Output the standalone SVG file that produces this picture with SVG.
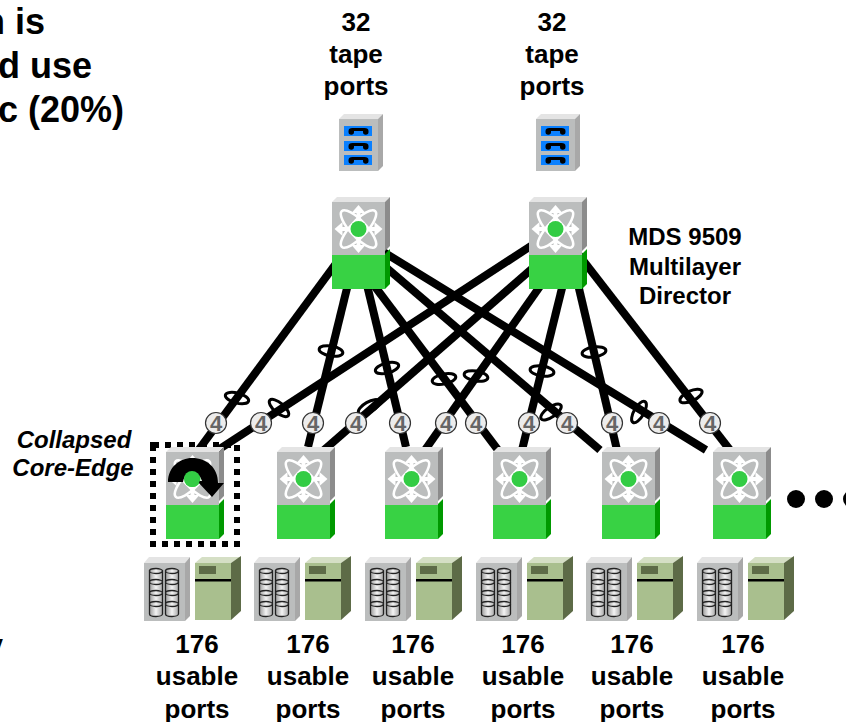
<svg xmlns="http://www.w3.org/2000/svg" xmlns:xlink="http://www.w3.org/1999/xlink" width="846" height="722" viewBox="0 0 846 722">
<style>
text{font-family:"Liberation Sans",Arial,sans-serif;font-weight:bold;fill:#000}
.t26{font-size:26px;text-anchor:middle}
.t24{font-size:24px;text-anchor:middle}
.t36{font-size:36px;text-anchor:end}
.it{font-size:24px;font-style:italic;text-anchor:middle}
.b{font-size:22px;text-anchor:middle;fill:#666}
.link{stroke:#000;stroke-width:8;fill:none}
.ring{stroke:#000;stroke-width:3;fill:none}
.badge{fill:#ececec;stroke:#333;stroke-width:1.2}
</style>
<defs>
<linearGradient id="cyl" x1="0" x2="1" y1="0" y2="0"><stop offset="0" stop-color="#9a9a9a"/><stop offset=".5" stop-color="#f4f4f4"/><stop offset="1" stop-color="#a8a8a8"/></linearGradient>
<g id="sw">
<polygon points="0,5 5,0 58,0 53,5" fill="#e4e4e4"/>
<polygon points="53,5 58,0 58,49 53,54" fill="#8c8c8c"/>
<polygon points="53,57 58,52 58,87 53,92" fill="#009900"/>
<rect x="0" y="5" width="53" height="53" fill="#bbbdbd"/>
<rect x="0" y="58" width="53" height="34" fill="#38d244"/>
</g>
<g id="hub">
<g fill="none" stroke="#fff" stroke-width="2.6">
<ellipse rx="24.500" ry="8" transform="rotate(47)"/>
<ellipse rx="24.500" ry="8" transform="rotate(-47)"/>
</g>
<g stroke="#fff" stroke-width="4"><path d="M-20,0H20M0,-20V20"/></g>
<g fill="#fff"><path d="M-24,0l8,-7v14zM24,0l-8,-7v14zM0,-24l-7,8h14zM0,24l-7,-8h14z"/></g>
<circle r="8" fill="#33cc44"/>
</g>
<g id="tape">
<polygon points="0,5 5,0 44,0 39,5" fill="#e4e4e4"/>
<polygon points="39,5 44,0 44,52 39,57" fill="#a8a8a8"/>
<rect x="0" y="5" width="39" height="52" fill="#bbbdbd"/>
<g id="tr"><rect x="5" y="12" width="28" height="10" fill="#0a80ff"/><path d="M9.500,17q0,-3 4,-3h12q4,0 4,3v1a2.700,2.700 0 0 1 -5.500,0v-1h-9v1a2.700,2.700 0 0 1 -5.500,0z" fill="#000"/></g>
<use xlink:href="#tr" href="#tr" y="15"/>
<use xlink:href="#tr" href="#tr" y="29"/>
</g>
<g id="col">
<g stroke="#222" stroke-width="1.300" fill="url(#cyl)">
<path d="M-6.500,0V10A6.500,2.500 0 0 0 6.500,10V0Z"/><ellipse cy="0" rx="6.500" ry="2.500"/>
</g>
</g>
<g id="srv">
<polygon points="0,6 5,0 46,0 41,6" fill="#e4e4e4"/>
<polygon points="41,6 46,0 46,59 41,64" fill="#a8a8a8"/>
<rect x="0" y="6" width="41" height="58" fill="#bbbdbd"/>
<g transform="translate(12,14)"><use xlink:href="#col" href="#col"/><use xlink:href="#col" href="#col" y="11"/><use xlink:href="#col" href="#col" y="22"/><use xlink:href="#col" href="#col" y="33"/></g>
<g transform="translate(28,14)"><use xlink:href="#col" href="#col"/><use xlink:href="#col" href="#col" y="11"/><use xlink:href="#col" href="#col" y="22"/><use xlink:href="#col" href="#col" y="33"/></g>
<polygon points="51,6 58,0 97,0 87,6" fill="#d5dfc5"/>
<polygon points="87,6 97,-1 97,54 87,63" fill="#5d6b47"/>
<rect x="51" y="6" width="36" height="57" fill="#a9bf8e"/>
<rect x="55" y="9" width="17" height="8" fill="#5d6b47"/>
<rect x="51" y="22" width="36" height="2.500" fill="#000"/>
</g>
</defs>

<g id="connectors">
<path class="link" d="M340,258L197,452"/>
<path class="link" d="M349,280L308,447"/>
<path class="link" d="M367,285L406,447"/>
<path class="link" d="M370,280L498,450"/>
<path class="link" d="M375,258L600,450"/>
<path class="link" d="M372,245L706,450"/>
<path class="link" d="M540,240L218,450"/>
<path class="link" d="M542,260L324,450"/>
<path class="link" d="M555,265L425,450"/>
<path class="link" d="M564,280L522,450"/>
<path class="link" d="M577,280L617,450"/>
<path class="link" d="M575,250L730,450"/>
<g id="rings">
<ellipse class="ring" cx="237" cy="398" rx="12" ry="5" transform="rotate(15 237 398)"/>
<ellipse class="ring" cx="279" cy="408" rx="12" ry="5" transform="rotate(40 279 408)"/>
<ellipse class="ring" cx="331" cy="351" rx="12" ry="5" transform="rotate(10 331 351)"/>
<ellipse class="ring" cx="369" cy="407" rx="12" ry="5" transform="rotate(-30 369 407)"/>
<ellipse class="ring" cx="387" cy="368" rx="12" ry="5" transform="rotate(-15 387 368)"/>
<ellipse class="ring" cx="444" cy="379" rx="12" ry="5" transform="rotate(-12 444 379)"/>
<ellipse class="ring" cx="476" cy="376" rx="12" ry="5" transform="rotate(10 476 376)"/>
<ellipse class="ring" cx="542" cy="371" rx="12" ry="5" transform="rotate(8 542 371)"/>
<ellipse class="ring" cx="551" cy="412" rx="12" ry="5" transform="rotate(-35 551 412)"/>
<ellipse class="ring" cx="594" cy="352" rx="12" ry="5" transform="rotate(-8 594 352)"/>
<ellipse class="ring" cx="639" cy="412" rx="12" ry="5" transform="rotate(-60 639 412)"/>
<ellipse class="ring" cx="691" cy="396" rx="12" ry="5" transform="rotate(-25 691 396)"/>
</g>
<g id="badges">
<g transform="translate(216,423)"><circle class="badge" r="10.500"/><text class="b" y="8">4</text></g>
<g transform="translate(261,423)"><circle class="badge" r="10.500"/><text class="b" y="8">4</text></g>
<g transform="translate(313,423)"><circle class="badge" r="10.500"/><text class="b" y="8">4</text></g>
<g transform="translate(356,423)"><circle class="badge" r="10.500"/><text class="b" y="8">4</text></g>
<g transform="translate(400,423)"><circle class="badge" r="10.500"/><text class="b" y="8">4</text></g>
<g transform="translate(446,423)"><circle class="badge" r="10.500"/><text class="b" y="8">4</text></g>
<g transform="translate(476,423)"><circle class="badge" r="10.500"/><text class="b" y="8">4</text></g>
<g transform="translate(529,423)"><circle class="badge" r="10.500"/><text class="b" y="8">4</text></g>
<g transform="translate(567,423)"><circle class="badge" r="10.500"/><text class="b" y="8">4</text></g>
<g transform="translate(612,423)"><circle class="badge" r="10.500"/><text class="b" y="8">4</text></g>
<g transform="translate(659,423)"><circle class="badge" r="10.500"/><text class="b" y="8">4</text></g>
<g transform="translate(710,423)"><circle class="badge" r="10.500"/><text class="b" y="8">4</text></g>
</g>
</g>

<g id="tape1"><use xlink:href="#tape" href="#tape" x="339" y="114"/></g>
<g id="tape2"><use xlink:href="#tape" href="#tape" x="536" y="114"/></g>
<g id="director1"><use xlink:href="#sw" href="#sw" x="332" y="197"/><use xlink:href="#hub" href="#hub" x="358.500" y="229"/></g>
<g id="director2"><use xlink:href="#sw" href="#sw" x="529" y="197"/><use xlink:href="#hub" href="#hub" x="555.500" y="229"/></g>

<g id="edge1">
<rect x="153" y="445" width="84" height="99" fill="none" stroke="#000" stroke-width="6" stroke-dasharray="6 6"/>
<use xlink:href="#sw" href="#sw" x="166" y="447"/><use xlink:href="#hub" href="#hub" x="192.500" y="479"/>
<path d="M168,482C168,467 180,458 192,458C207,458 218,468 218,483L224,483L212,497L197,481L202,481C200,475 197,472 192,472C187,472 184,476 183,482Z" fill="#000"/>
<circle cx="192" cy="479" r="8" fill="#33cc44"/>
</g>
<g id="edge2"><use xlink:href="#sw" href="#sw" x="277" y="447"/><use xlink:href="#hub" href="#hub" x="303.500" y="479"/></g>
<g id="edge3"><use xlink:href="#sw" href="#sw" x="385" y="447"/><use xlink:href="#hub" href="#hub" x="411.500" y="479"/></g>
<g id="edge4"><use xlink:href="#sw" href="#sw" x="493" y="447"/><use xlink:href="#hub" href="#hub" x="519.500" y="479"/></g>
<g id="edge5"><use xlink:href="#sw" href="#sw" x="602" y="447"/><use xlink:href="#hub" href="#hub" x="628.500" y="479"/></g>
<g id="edge6"><use xlink:href="#sw" href="#sw" x="713" y="447"/><use xlink:href="#hub" href="#hub" x="739.500" y="479"/></g>

<g id="storage1"><use xlink:href="#srv" href="#srv" x="144" y="557"/></g>
<g id="storage2"><use xlink:href="#srv" href="#srv" x="254" y="557"/></g>
<g id="storage3"><use xlink:href="#srv" href="#srv" x="365" y="557"/></g>
<g id="storage4"><use xlink:href="#srv" href="#srv" x="476" y="557"/></g>
<g id="storage5"><use xlink:href="#srv" href="#srv" x="586" y="557"/></g>
<g id="storage6"><use xlink:href="#srv" href="#srv" x="697" y="557"/></g>

<g id="ellipsis" fill="#000"><circle cx="796" cy="499" r="9"/><circle cx="824" cy="499" r="9"/><circle cx="852" cy="499" r="9"/></g>

<g id="labels">
<text class="t36" x="45" y="34">n is</text>
<text class="t36" x="92" y="78">d use</text>
<text class="t36" x="124" y="122">c (20%)</text>
<text x="3" y="659" style="font-size:36px;text-anchor:end">y</text>
<text class="t26" x="356" y="31">32</text><text class="t26" x="356" y="63">tape</text><text class="t26" x="356" y="95">ports</text>
<text class="t26" x="552" y="31">32</text><text class="t26" x="552" y="63">tape</text><text class="t26" x="552" y="95">ports</text>
<text class="t24" x="685" y="245">MDS 9509</text><text class="t24" x="685" y="275">Multilayer</text><text class="t24" x="685" y="304">Director</text>
<text class="it" x="74" y="448">Collapsed</text><text class="it" x="73" y="476">Core-Edge</text>
<text class="t26" x="197" y="653">176</text><text class="t26" x="197" y="685">usable</text><text class="t26" x="197" y="718">ports</text>
<text class="t26" x="308" y="653">176</text><text class="t26" x="308" y="685">usable</text><text class="t26" x="308" y="718">ports</text>
<text class="t26" x="413" y="653">176</text><text class="t26" x="413" y="685">usable</text><text class="t26" x="413" y="718">ports</text>
<text class="t26" x="523" y="653">176</text><text class="t26" x="523" y="685">usable</text><text class="t26" x="523" y="718">ports</text>
<text class="t26" x="632" y="653">176</text><text class="t26" x="632" y="685">usable</text><text class="t26" x="632" y="718">ports</text>
<text class="t26" x="743" y="653">176</text><text class="t26" x="743" y="685">usable</text><text class="t26" x="743" y="718">ports</text>
</g>
</svg>
